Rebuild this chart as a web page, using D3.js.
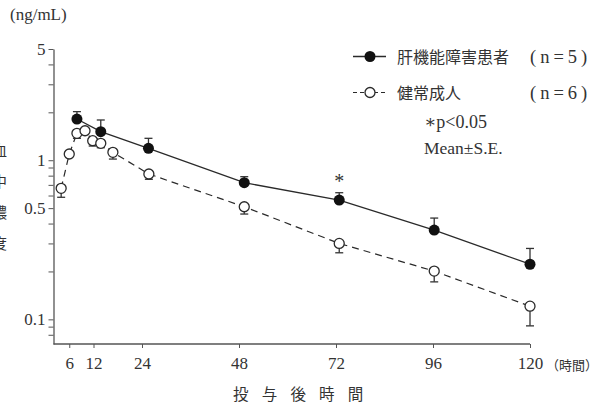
<!DOCTYPE html>
<html><head><meta charset="utf-8">
<script src="https://cdn.jsdelivr.net/npm/d3@7/dist/d3.min.js"></script>
<style>
html,body{margin:0;padding:0;background:#fff;}
svg{display:block;}
</style></head>
<body>
<svg id="chart" width="597" height="405"></svg>
<script>
// ---- data ----
const hoursNormal = [4, 6, 7.9, 9.9, 11.8, 13.8, 16.8, 25.7, 49.3, 72.8, 96.3, 120];
const meanNormal  = [0.666, 1.094, 1.476, 1.532, 1.326, 1.277, 1.121, 0.819, 0.510, 0.300, 0.201, 0.121];
const seNormal    = [0.081, 0, 0.103, 0, 0.098, 0.079, 0.104, 0.060, 0.051, 0.038, 0.029, 0.030];

const hoursLiver = [7.9, 13.8, 25.6, 49.3, 72.8, 96.3, 120];
const meanLiver  = [1.815, 1.511, 1.188, 0.722, 0.562, 0.364, 0.222];
const seLiver    = [0.205, 0.279, 0.185, 0.066, 0.063, 0.069, 0.057];

const xTicks = [6, 12, 24, 48, 72, 96, 120];
const yTicks = [0.08, 0.09, 0.1, 0.2, 0.3, 0.4, 0.5, 0.6, 0.7, 0.8, 0.9, 1, 2, 3, 4, 5];
const yLabels = [0.1, 0.5, 1, 5];
const sigHours = [72.8];

const legendLiver = "肝機能障害患者";
const legendNormal = "健常成人";
const nLiver = "(n=5)";
const nNormal = "(n=6)";

// ---- chart ----
const svg = d3.select("#chart");
const serif = "'Liberation Serif','DejaVu Serif',serif";
const cjk = "'Noto Sans CJK JP','Noto Sans CJK SC',sans-serif";
const ink = "#2a2a2a";
const axisCol = "#555";

const x = d3.scaleLinear().domain([0, 120]).range([45, 530]);
const y = d3.scaleLog().domain([0.07, 5]).range([344, 49]);
const axisX0 = 53.5;

// y axis
const gy = svg.append("g").attr("transform", `translate(${axisX0},0)`)
  .call(d3.axisLeft(y).tickValues(yTicks).tickSize(5).tickSizeOuter(0)
    .tickFormat(d => yLabels.includes(d) ? String(d) : ""));
gy.select(".domain").attr("stroke", axisCol).attr("stroke-width", 1.3);
gy.selectAll(".tick line").attr("stroke", axisCol).attr("stroke-width", 1);
gy.selectAll(".tick text").attr("font-family", serif).attr("font-size", 17)
  .attr("fill", "#333").attr("x", -8);

// x axis
const gx = svg.append("g").attr("transform", `translate(0,${y(0.07)})`)
  .call(d3.axisBottom(x).tickValues(xTicks).tickSize(4).tickSizeOuter(0));
gx.select(".domain").remove();
gx.append("line").attr("x1", axisX0).attr("x2", x(120)).attr("y1", 0).attr("y2", 0)
  .attr("stroke", axisCol).attr("stroke-width", 1.3);
gx.selectAll(".tick line").attr("stroke", axisCol).attr("stroke-width", 1);
gx.selectAll(".tick text").attr("font-family", serif).attr("font-size", 17)
  .attr("fill", "#333").attr("y", 13);

svg.append("text").attr("x", 546).attr("y", 370)
  .attr("font-family", cjk).attr("font-size", 13).attr("fill", "#333").text("（時間）");

// axis titles
svg.append("text").attr("x", 233).attr("y", 400)
  .attr("font-family", cjk).attr("font-size", 15.5).attr("fill", "#333")
  .attr("letter-spacing", 13.2).text("投与後時間");

const yTitle = ["血", "中", "濃", "度"];
svg.append("g").selectAll("text").data(yTitle).join("text")
  .attr("x", -8).attr("y", (d, i) => 156 + i * 31)
  .attr("font-family", cjk).attr("font-size", 15).attr("fill", "#333").text(d => d);

svg.append("text").attr("x", 10).attr("y", 20)
  .attr("font-family", serif).attr("font-size", 17).attr("fill", "#333").text("(ng/mL)");

// series data
const normal = hoursNormal.map((h, i) => ({h, m: meanNormal[i], se: seNormal[i]}));
const liver = hoursLiver.map((h, i) => ({h, m: meanLiver[i], se: seLiver[i]}));

const line = d3.line().x(d => x(d.h)).y(d => y(d.m));
svg.append("path").datum(normal).attr("d", line).attr("fill", "none")
  .attr("stroke", ink).attr("stroke-width", 1.2).attr("stroke-dasharray", "7,5");
svg.append("path").datum(liver).attr("d", line).attr("fill", "none")
  .attr("stroke", ink).attr("stroke-width", 1.3);

// error bars
function errBars(data, dir) {
  const g = svg.append("g").attr("stroke", "#333").attr("stroke-width", 1.3);
  data.filter(d => d.se > 0).forEach(d => {
    const end = y(d.m + dir * d.se);
    g.append("line").attr("x1", x(d.h)).attr("x2", x(d.h)).attr("y1", y(d.m)).attr("y2", end);
    g.append("line").attr("x1", x(d.h) - 4).attr("x2", x(d.h) + 4).attr("y1", end).attr("y2", end);
  });
}
errBars(normal, -1);
errBars(liver, 1);

svg.append("g").selectAll("circle").data(normal).join("circle")
  .attr("cx", d => x(d.h)).attr("cy", d => y(d.m)).attr("r", 5)
  .attr("fill", "#fff").attr("stroke", ink).attr("stroke-width", 1.3);
svg.append("g").selectAll("circle").data(liver).join("circle")
  .attr("cx", d => x(d.h)).attr("cy", d => y(d.m)).attr("r", 5.5)
  .attr("fill", "#111");

// significance marks
svg.append("g").selectAll("text").data(sigHours).join("text")
  .attr("x", d => x(d)).attr("y", d => {
    const i = hoursLiver.indexOf(d);
    return y(meanLiver[i] + seLiver[i]) - 5;
  })
  .attr("text-anchor", "middle").attr("font-family", serif).attr("font-size", 20)
  .attr("fill", "#333").text("*");

// legend
const lg = svg.append("g");
lg.append("line").attr("x1", 353).attr("x2", 386).attr("y1", 56.5).attr("y2", 56.5)
  .attr("stroke", ink).attr("stroke-width", 1.3);
lg.append("circle").attr("cx", 370).attr("cy", 56.5).attr("r", 5.5).attr("fill", "#111");
lg.append("line").attr("x1", 353).attr("x2", 386).attr("y1", 92.5).attr("y2", 92.5)
  .attr("stroke", ink).attr("stroke-width", 1.2).attr("stroke-dasharray", "4,3");
lg.append("circle").attr("cx", 370).attr("cy", 92.5).attr("r", 5)
  .attr("fill", "#fff").attr("stroke", ink).attr("stroke-width", 1.3);

lg.append("text").attr("x", 397).attr("y", 62.5)
  .attr("font-family", cjk).attr("font-size", 16).attr("fill", "#333").text(legendLiver);
lg.append("text").attr("x", 530).attr("y", 62.5)
  .attr("font-family", serif).attr("font-size", 18.5).attr("letter-spacing", 4)
  .attr("fill", "#333").text(nLiver);
lg.append("text").attr("x", 397).attr("y", 98.5)
  .attr("font-family", cjk).attr("font-size", 16).attr("fill", "#333").text(legendNormal);
lg.append("text").attr("x", 530).attr("y", 98.5)
  .attr("font-family", serif).attr("font-size", 18.5).attr("letter-spacing", 4)
  .attr("fill", "#333").text(nNormal);

lg.append("text").attr("x", 424).attr("y", 128)
  .attr("font-family", serif).attr("font-size", 18).attr("fill", "#333")
  .text("∗p<0.05");
lg.append("text").attr("x", 424).attr("y", 154)
  .attr("font-family", serif).attr("font-size", 17.5).attr("fill", "#333")
  .text("Mean±S.E.");
</script>
</body></html>
